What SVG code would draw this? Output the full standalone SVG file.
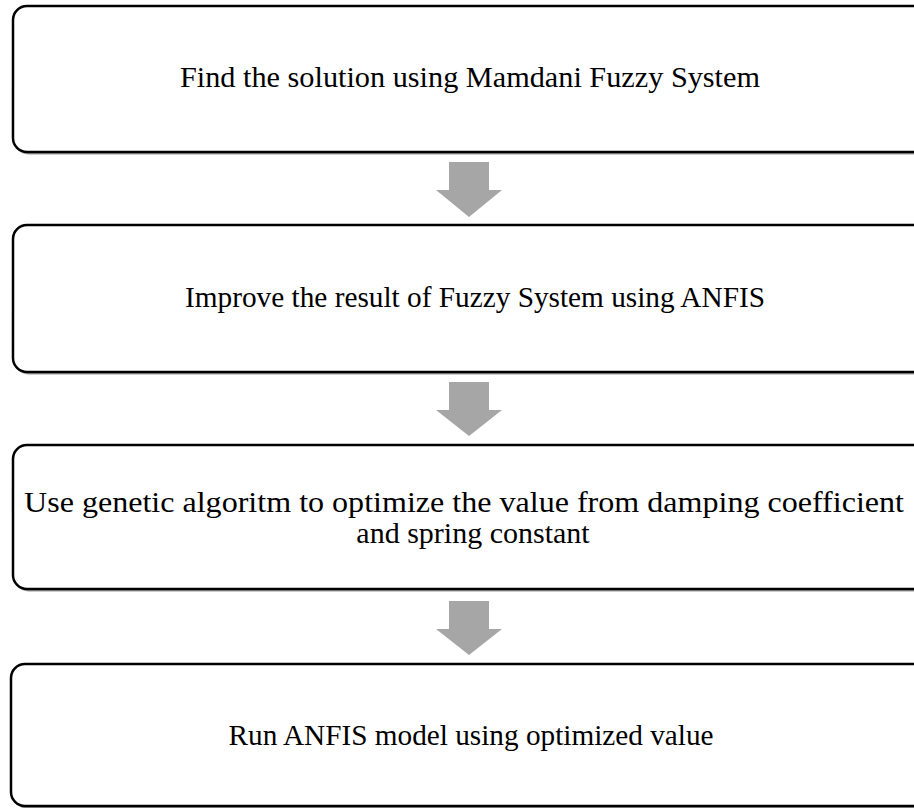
<svg xmlns="http://www.w3.org/2000/svg" width="914" height="808" viewBox="0 0 914 808">
<style>
.box{fill:#fff;stroke:#000;stroke-width:2.5}
.sh{fill:none;stroke:#9a9a9a;stroke-width:2}
.t{font-family:"Liberation Serif","Times New Roman",serif;font-size:30px;fill:#000;text-anchor:middle}
.arr{fill:#a6a6a6}
</style>
<rect width="914" height="808" fill="#fff"/>
<g id="node1">
<rect class="sh" x="14.5" y="7.5" width="940" height="146" rx="14"/>
<rect class="box" x="13" y="6" width="940" height="146" rx="14"/>
<text class="t" x="470" y="87" textLength="580" lengthAdjust="spacingAndGlyphs">Find the solution using Mamdani Fuzzy System</text>
</g>
<g id="node2">
<rect class="sh" x="14.5" y="226.5" width="940" height="147" rx="14"/>
<rect class="box" x="13" y="225" width="940" height="147" rx="14"/>
<text class="t" x="475" y="307" textLength="580" lengthAdjust="spacingAndGlyphs">Improve the result of  Fuzzy System using ANFIS</text>
</g>
<g id="node3">
<rect class="sh" x="14.5" y="446.5" width="940" height="144" rx="14"/>
<rect class="box" x="13" y="445" width="940" height="144" rx="14"/>
<text class="t" x="464" y="512" textLength="880" lengthAdjust="spacingAndGlyphs">Use genetic algoritm to optimize the value from damping coefficient</text>
<text class="t" x="473" y="543">and spring constant</text>
</g>
<g id="node4">
<rect class="sh" x="12.5" y="665.5" width="940" height="142" rx="14"/>
<rect class="box" x="11" y="664" width="940" height="142" rx="14"/>
<text class="t" x="471" y="745" textLength="485" lengthAdjust="spacingAndGlyphs">Run ANFIS model using optimized value</text>
</g>
<g id="connectors">
<polygon class="arr" points="449,162 489,162 489,190 502,190 469,217 436,190 449,190"/>
<polygon class="arr" points="449,382 489,382 489,410 502,410 469,436 436,410 449,410"/>
<polygon class="arr" points="449,601 489,601 489,629 502,629 469,655 436,629 449,629"/>
</g>
</svg>
